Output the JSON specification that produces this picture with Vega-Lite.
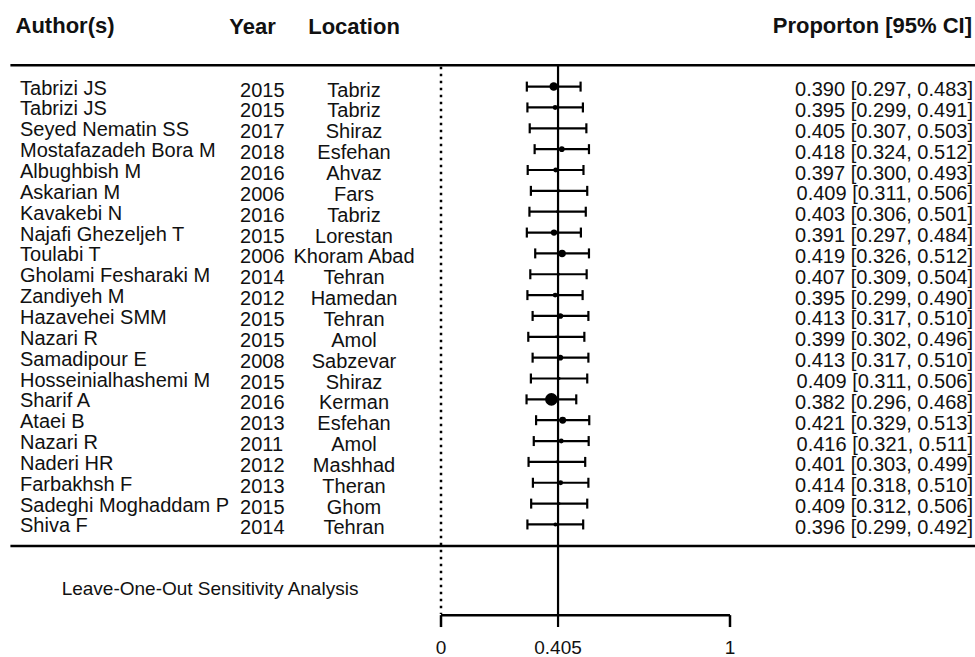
{
  "$schema": "https://vega.github.io/schema/vega-lite/v6.json",
  "width": 975,
  "height": 657,
  "padding": 0,
  "autosize": {"type": "none"},
  "background": "white",
  "config": {
    "view": {"stroke": null},
    "text": {"font": "Liberation Sans", "color": "#111111"}
  },
  "datasets": {
    "studies": [
      {"row": 1, "author": "Tabrizi JS", "year": "2015", "location": "Tabriz", "est": 0.390, "lo": 0.297, "hi": 0.483, "w": 9, "ci": "0.390 [0.297, 0.483]"},
      {"row": 2, "author": "Tabrizi JS", "year": "2015", "location": "Tabriz", "est": 0.395, "lo": 0.299, "hi": 0.491, "w": 3, "ci": "0.395 [0.299, 0.491]"},
      {"row": 3, "author": "Seyed Nematin SS", "year": "2017", "location": "Shiraz", "est": 0.405, "lo": 0.307, "hi": 0.503, "w": 1, "ci": "0.405 [0.307, 0.503]"},
      {"row": 4, "author": "Mostafazadeh Bora M", "year": "2018", "location": "Esfehan", "est": 0.418, "lo": 0.324, "hi": 0.512, "w": 4, "ci": "0.418 [0.324, 0.512]"},
      {"row": 5, "author": "Albughbish M", "year": "2016", "location": "Ahvaz", "est": 0.397, "lo": 0.300, "hi": 0.493, "w": 3, "ci": "0.397 [0.300, 0.493]"},
      {"row": 6, "author": "Askarian M", "year": "2006", "location": "Fars", "est": 0.409, "lo": 0.311, "hi": 0.506, "w": 1, "ci": "0.409 [0.311, 0.506]"},
      {"row": 7, "author": "Kavakebi N", "year": "2016", "location": "Tabriz", "est": 0.403, "lo": 0.306, "hi": 0.501, "w": 1, "ci": "0.403 [0.306, 0.501]"},
      {"row": 8, "author": "Najafi Ghezeljeh T", "year": "2015", "location": "Lorestan", "est": 0.391, "lo": 0.297, "hi": 0.484, "w": 5, "ci": "0.391 [0.297, 0.484]"},
      {"row": 9, "author": "Toulabi T", "year": "2006", "location": "Khoram Abad", "est": 0.419, "lo": 0.326, "hi": 0.512, "w": 7, "ci": "0.419 [0.326, 0.512]"},
      {"row": 10, "author": "Gholami Fesharaki M", "year": "2014", "location": "Tehran", "est": 0.407, "lo": 0.309, "hi": 0.504, "w": 1, "ci": "0.407 [0.309, 0.504]"},
      {"row": 11, "author": "Zandiyeh M", "year": "2012", "location": "Hamedan", "est": 0.395, "lo": 0.299, "hi": 0.490, "w": 3, "ci": "0.395 [0.299, 0.490]"},
      {"row": 12, "author": "Hazavehei SMM", "year": "2015", "location": "Tehran", "est": 0.413, "lo": 0.317, "hi": 0.510, "w": 4, "ci": "0.413 [0.317, 0.510]"},
      {"row": 13, "author": "Nazari R", "year": "2015", "location": "Amol", "est": 0.399, "lo": 0.302, "hi": 0.496, "w": 1, "ci": "0.399 [0.302, 0.496]"},
      {"row": 14, "author": "Samadipour E", "year": "2008", "location": "Sabzevar", "est": 0.413, "lo": 0.317, "hi": 0.510, "w": 4, "ci": "0.413 [0.317, 0.510]"},
      {"row": 15, "author": "Hosseinialhashemi M", "year": "2015", "location": "Shiraz", "est": 0.409, "lo": 0.311, "hi": 0.506, "w": 1, "ci": "0.409 [0.311, 0.506]"},
      {"row": 16, "author": "Sharif A", "year": "2016", "location": "Kerman", "est": 0.382, "lo": 0.296, "hi": 0.468, "w": 20, "ci": "0.382 [0.296, 0.468]"},
      {"row": 17, "author": "Ataei B", "year": "2013", "location": "Esfehan", "est": 0.421, "lo": 0.329, "hi": 0.513, "w": 6, "ci": "0.421 [0.329, 0.513]"},
      {"row": 18, "author": "Nazari R", "year": "2011", "location": "Amol", "est": 0.416, "lo": 0.321, "hi": 0.511, "w": 3, "ci": "0.416 [0.321, 0.511]"},
      {"row": 19, "author": "Naderi HR", "year": "2012", "location": "Mashhad", "est": 0.401, "lo": 0.303, "hi": 0.499, "w": 1, "ci": "0.401 [0.303, 0.499]"},
      {"row": 20, "author": "Farbakhsh F", "year": "2013", "location": "Theran", "est": 0.414, "lo": 0.318, "hi": 0.510, "w": 3, "ci": "0.414 [0.318, 0.510]"},
      {"row": 21, "author": "Sadeghi Moghaddam P", "year": "2015", "location": "Ghom", "est": 0.409, "lo": 0.312, "hi": 0.506, "w": 1, "ci": "0.409 [0.312, 0.506]"},
      {"row": 22, "author": "Shiva F", "year": "2014", "location": "Tehran", "est": 0.396, "lo": 0.299, "hi": 0.492, "w": 2, "ci": "0.396 [0.299, 0.492]"}
    ],
    "lines": [
      {"kind": "frame", "x": -1.49, "x2": 1.8478, "row": -0.02, "row2": -0.02},
      {"kind": "frame", "x": -1.49, "x2": 1.8478, "row": 23.03, "row2": 23.03},
      {"kind": "frame", "x": 0, "x2": 1, "row": 26.35, "row2": 26.35},
      {"kind": "frame", "x": 0, "x2": 0, "row": 26.35, "row2": 26.92},
      {"kind": "frame", "x": 1, "x2": 1, "row": 26.35, "row2": 26.92},
      {"kind": "dotted", "x": 0, "x2": 0, "row": 0.05, "row2": 26.3},
      {"kind": "mean", "x": 0.405, "x2": 0.405, "row": -0.02, "row2": 26.92}
    ],
    "texts": [
      {"kind": "header", "text": "Author(s)", "x": -1.301, "row": -1.571},
      {"kind": "header", "text": "Year", "x": -0.6522, "row": -1.53},
      {"kind": "header", "text": "Location", "x": -0.301, "row": -1.53},
      {"kind": "headerR", "text": "Proporton [95% CI]", "x": 1.8374, "row": -1.571},
      {"kind": "note", "text": "Leave-One-Out Sensitivity Analysis", "x": -0.7993, "row": 25.38},
      {"kind": "tick", "text": "0", "x": 0, "row": 28.22},
      {"kind": "tick", "text": "0.405", "x": 0.405, "row": 28.22},
      {"kind": "tick", "text": "1", "x": 1, "row": 28.22}
    ]
  },
  "layer": [
    {
      "data": {"name": "lines"},
      "transform": [{"filter": "datum.kind === 'frame'"}],
      "mark": {"type": "rule", "color": "#000000", "strokeWidth": 2.5},
      "encoding": {
        "x": {"field": "x", "type": "quantitative", "scale": {"domain": [-1.526, 1.8478], "nice": false, "zero": false}, "axis": null},
        "x2": {"field": "x2"},
        "y": {"field": "row", "type": "quantitative", "scale": {"domain": [-3.1535, 28.357], "nice": false, "zero": false, "reverse": true}, "axis": null},
        "y2": {"field": "row2"}
      }
    },
    {
      "data": {"name": "lines"},
      "transform": [{"filter": "datum.kind === 'dotted'"}],
      "mark": {"type": "rule", "color": "#000000", "strokeWidth": 2.5, "strokeDash": [2.5, 4.5]},
      "encoding": {
        "x": {"field": "x", "type": "quantitative"},
        "x2": {"field": "x2"},
        "y": {"field": "row", "type": "quantitative"},
        "y2": {"field": "row2"}
      }
    },
    {
      "data": {"name": "lines"},
      "transform": [{"filter": "datum.kind === 'mean'"}],
      "mark": {"type": "rule", "color": "#000000", "strokeWidth": 2.2},
      "encoding": {
        "x": {"field": "x", "type": "quantitative"},
        "x2": {"field": "x2"},
        "y": {"field": "row", "type": "quantitative"},
        "y2": {"field": "row2"}
      }
    },
    {
      "data": {"name": "studies"},
      "mark": {"type": "rule", "color": "#000000", "strokeWidth": 2.2},
      "encoding": {
        "x": {"field": "lo", "type": "quantitative"},
        "x2": {"field": "hi"},
        "y": {"field": "row", "type": "quantitative"}
      }
    },
    {
      "data": {"name": "studies"},
      "mark": {"type": "tick", "orient": "vertical", "color": "#000000", "size": 10, "thickness": 2.2, "opacity": 1},
      "encoding": {
        "x": {"field": "lo", "type": "quantitative"},
        "y": {"field": "row", "type": "quantitative"}
      }
    },
    {
      "data": {"name": "studies"},
      "mark": {"type": "tick", "orient": "vertical", "color": "#000000", "size": 10, "thickness": 2.2, "opacity": 1},
      "encoding": {
        "x": {"field": "hi", "type": "quantitative"},
        "y": {"field": "row", "type": "quantitative"}
      }
    },
    {
      "data": {"name": "studies"},
      "mark": {"type": "circle", "color": "#000000", "opacity": 1},
      "encoding": {
        "x": {"field": "est", "type": "quantitative"},
        "y": {"field": "row", "type": "quantitative"},
        "size": {"field": "w", "type": "quantitative", "scale": {"domain": [0, 20], "range": [0, 160]}, "legend": null}
      }
    },
    {
      "data": {"name": "studies"},
      "mark": {"type": "text", "align": "left", "baseline": "alphabetic", "fontSize": 20, "dy": 8},
      "encoding": {
        "x": {"datum": -1.4567, "type": "quantitative"},
        "y": {"field": "row", "type": "quantitative"},
        "text": {"field": "author"}
      }
    },
    {
      "data": {"name": "studies"},
      "mark": {"type": "text", "align": "left", "baseline": "alphabetic", "fontSize": 20, "dy": 10},
      "encoding": {
        "x": {"datum": -0.6955, "type": "quantitative"},
        "y": {"field": "row", "type": "quantitative"},
        "text": {"field": "year"}
      }
    },
    {
      "data": {"name": "studies"},
      "mark": {"type": "text", "align": "center", "baseline": "alphabetic", "fontSize": 20, "dy": 10},
      "encoding": {
        "x": {"datum": -0.301, "type": "quantitative"},
        "y": {"field": "row", "type": "quantitative"},
        "text": {"field": "location"}
      }
    },
    {
      "data": {"name": "studies"},
      "mark": {"type": "text", "align": "right", "baseline": "alphabetic", "fontSize": 20, "dy": 9.5},
      "encoding": {
        "x": {"datum": 1.8408, "type": "quantitative"},
        "y": {"field": "row", "type": "quantitative"},
        "text": {"field": "ci"}
      }
    },
    {
      "data": {"name": "texts"},
      "transform": [{"filter": "datum.kind === 'header'"}],
      "mark": {"type": "text", "align": "center", "baseline": "alphabetic", "fontSize": 22, "fontWeight": "bold"},
      "encoding": {
        "x": {"field": "x", "type": "quantitative"},
        "y": {"field": "row", "type": "quantitative"},
        "text": {"field": "text"}
      }
    },
    {
      "data": {"name": "texts"},
      "transform": [{"filter": "datum.kind === 'headerR'"}],
      "mark": {"type": "text", "align": "right", "baseline": "alphabetic", "fontSize": 22, "fontWeight": "bold"},
      "encoding": {
        "x": {"field": "x", "type": "quantitative"},
        "y": {"field": "row", "type": "quantitative"},
        "text": {"field": "text"}
      }
    },
    {
      "data": {"name": "texts"},
      "transform": [{"filter": "datum.kind === 'note' || datum.kind === 'tick'"}],
      "mark": {"type": "text", "align": "center", "baseline": "alphabetic", "fontSize": 19},
      "encoding": {
        "x": {"field": "x", "type": "quantitative"},
        "y": {"field": "row", "type": "quantitative"},
        "text": {"field": "text"}
      }
    }
  ]
}
